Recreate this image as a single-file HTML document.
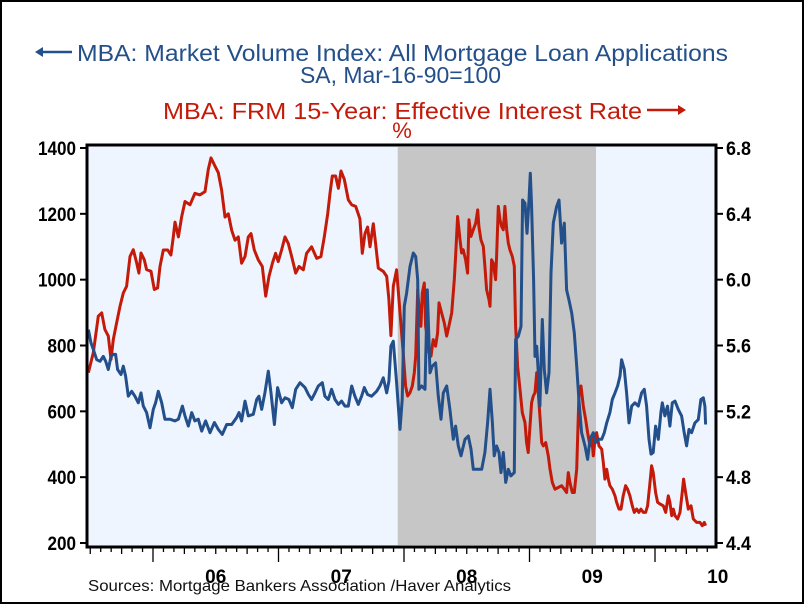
<!DOCTYPE html>
<html><head><meta charset="utf-8"><style>
html,body{margin:0;padding:0;background:#fff;}
svg{display:block;font-family:"Liberation Sans",Arial,sans-serif;}
</style></head><body>
<svg id="chart" width="804" height="604" viewBox="0 0 804 604" xmlns="http://www.w3.org/2000/svg">
<rect x="1" y="1" width="802" height="602" fill="#fff" stroke="#000" stroke-width="2"/>
<g fill="#234f8a">
<line x1="40" y1="52" x2="72" y2="52" stroke="#234f8a" stroke-width="2.5"/>
<polygon points="35,52 43,47 43,57" fill="#234f8a"/>
<text x="77" y="61" font-size="23" textLength="651" lengthAdjust="spacingAndGlyphs">MBA: Market Volume Index: All Mortgage Loan Applications</text>
<text x="300" y="83" font-size="23" textLength="201" lengthAdjust="spacingAndGlyphs">SA, Mar-16-90=100</text>
</g>
<g fill="#c41a0a">
<text x="163" y="119" font-size="23" textLength="479" lengthAdjust="spacingAndGlyphs">MBA: FRM 15-Year: Effective Interest Rate</text>
<line x1="647" y1="110" x2="680" y2="110" stroke="#c41a0a" stroke-width="2.5"/>
<polygon points="686,110 678,105 678,115" fill="#c41a0a"/>
<text x="402" y="138" font-size="22" text-anchor="middle">%</text>
</g>
<rect x="87" y="145" width="629" height="402" fill="#eef5ff"/>
<g id="shade"></g>
<g id="series"></g>
<rect x="87" y="145" width="629" height="402" fill="none" stroke="#000" stroke-width="3"/>
<g id="axes"></g>
<text x="88" y="591" font-size="16" fill="#111" textLength="423" lengthAdjust="spacingAndGlyphs">Sources:  Mortgage Bankers Association /Haver Analytics</text>
</svg>
<script>
const leftTicks=[200,400,600,800,1000,1200,1400];
const rightTicks=["4.4","4.8","5.2","5.6","6.0","6.4","6.8"];
const yearLabels=["06","07","08","09","10"];
const yearValues=[2006,2007,2008,2009,2010];
const recession=[2007.95,2009.53];
const blueDates=[2005.485,2005.506,2005.524,2005.551,2005.578,2005.604,2005.623,2005.644,2005.665,2005.684,2005.702,2005.718,2005.745,2005.763,2005.782,2005.803,2005.830,2005.856,2005.883,2005.904,2005.923,2005.949,2005.976,2006.002,2006.021,2006.042,2006.069,2006.095,2006.135,2006.175,2006.202,2006.234,2006.255,2006.281,2006.308,2006.334,2006.361,2006.388,2006.419,2006.454,2006.489,2006.520,2006.552,2006.587,2006.627,2006.666,2006.685,2006.706,2006.733,2006.759,2006.799,2006.826,2006.844,2006.866,2006.892,2006.919,2006.940,2006.967,2006.993,2007.025,2007.052,2007.083,2007.110,2007.137,2007.171,2007.211,2007.238,2007.264,2007.291,2007.317,2007.349,2007.370,2007.397,2007.423,2007.450,2007.477,2007.503,2007.530,2007.556,2007.583,2007.609,2007.636,2007.662,2007.684,2007.710,2007.742,2007.782,2007.808,2007.835,2007.862,2007.880,2007.896,2007.915,2007.941,2007.968,2007.986,2008.002,2008.021,2008.048,2008.074,2008.093,2008.109,2008.119,2008.140,2008.167,2008.186,2008.207,2008.225,2008.252,2008.273,2008.295,2008.313,2008.340,2008.366,2008.393,2008.411,2008.433,2008.454,2008.486,2008.512,2008.534,2008.552,2008.579,2008.619,2008.645,2008.666,2008.685,2008.704,2008.719,2008.738,2008.757,2008.773,2008.791,2008.810,2008.831,2008.852,2008.879,2008.889,2008.911,2008.932,2008.945,2008.964,2008.980,2008.996,2009.006,2009.017,2009.033,2009.044,2009.057,2009.070,2009.083,2009.102,2009.118,2009.136,2009.155,2009.171,2009.190,2009.216,2009.235,2009.256,2009.277,2009.296,2009.314,2009.336,2009.357,2009.376,2009.394,2009.415,2009.442,2009.463,2009.482,2009.508,2009.527,2009.548,2009.575,2009.596,2009.615,2009.641,2009.660,2009.681,2009.702,2009.721,2009.734,2009.755,2009.774,2009.793,2009.814,2009.840,2009.867,2009.893,2009.915,2009.933,2009.952,2009.968,2009.986,2010.005,2010.026,2010.047,2010.058,2010.079,2010.100,2010.119,2010.138,2010.159,2010.186,2010.212,2010.233,2010.252,2010.271,2010.292,2010.318,2010.345,2010.366,2010.385,2010.398,2010.403];
const blueValues=[848,808,788,757,752,767,752,727,767,773,773,727,712,737,707,646,661,646,626,656,616,596,550,606,626,661,626,576,576,571,576,616,586,555,596,571,576,540,571,535,566,545,530,560,560,581,596,571,631,586,591,636,646,606,656,722,656,560,672,626,641,636,611,667,687,672,651,636,656,677,687,646,636,667,636,621,631,616,616,677,646,621,646,672,651,646,661,677,702,656,692,798,813,687,545,636,919,959,1040,1081,1070,1000,667,677,667,969,717,737,747,646,576,656,677,606,515,555,495,465,515,525,485,424,424,424,475,565,667,565,465,495,475,414,475,384,424,404,414,818,828,858,1242,1232,1141,1242,1323,1222,1000,767,798,717,616,879,727,656,717,1020,1172,1222,1242,1111,1172,969,939,899,838,737,636,535,495,454,515,535,505,515,515,535,565,596,636,656,677,707,757,727,656,565,616,626,616,656,667,616,515,470,475,555,515,596,626,586,616,555,626,631,606,586,535,495,545,535,565,575,636,641,616,560];
const redDates=[2005.485,2005.524,2005.564,2005.591,2005.617,2005.644,2005.665,2005.684,2005.710,2005.737,2005.763,2005.790,2005.817,2005.843,2005.870,2005.888,2005.904,2005.931,2005.949,2005.984,2006.010,2006.037,2006.056,2006.082,2006.117,2006.143,2006.162,2006.175,2006.202,2006.228,2006.255,2006.295,2006.334,2006.374,2006.414,2006.441,2006.462,2006.494,2006.520,2006.547,2006.574,2006.600,2006.627,2006.653,2006.680,2006.706,2006.733,2006.759,2006.781,2006.807,2006.839,2006.871,2006.898,2006.924,2006.951,2006.977,2006.998,2007.025,2007.052,2007.078,2007.105,2007.137,2007.163,2007.198,2007.224,2007.264,2007.304,2007.338,2007.365,2007.392,2007.410,2007.429,2007.455,2007.477,2007.498,2007.524,2007.556,2007.583,2007.615,2007.649,2007.668,2007.689,2007.710,2007.729,2007.755,2007.774,2007.795,2007.835,2007.862,2007.880,2007.896,2007.915,2007.941,2007.968,2007.994,2008.013,2008.029,2008.048,2008.066,2008.082,2008.093,2008.109,2008.119,2008.135,2008.146,2008.162,2008.172,2008.188,2008.199,2008.215,2008.233,2008.252,2008.268,2008.279,2008.300,2008.321,2008.340,2008.358,2008.380,2008.401,2008.411,2008.427,2008.446,2008.459,2008.472,2008.491,2008.507,2008.518,2008.534,2008.552,2008.571,2008.587,2008.597,2008.613,2008.632,2008.645,2008.658,2008.677,2008.685,2008.698,2008.711,2008.730,2008.738,2008.751,2008.765,2008.778,2008.791,2008.804,2008.818,2008.831,2008.844,2008.863,2008.879,2008.889,2008.905,2008.924,2008.943,2008.964,2008.977,2008.990,2009.004,2009.017,2009.030,2009.044,2009.057,2009.070,2009.083,2009.097,2009.110,2009.129,2009.150,2009.163,2009.182,2009.203,2009.229,2009.256,2009.277,2009.296,2009.309,2009.322,2009.341,2009.357,2009.376,2009.383,2009.394,2009.410,2009.429,2009.447,2009.463,2009.482,2009.495,2009.508,2009.522,2009.535,2009.554,2009.575,2009.588,2009.601,2009.615,2009.628,2009.641,2009.660,2009.681,2009.694,2009.713,2009.729,2009.747,2009.766,2009.782,2009.800,2009.819,2009.835,2009.854,2009.872,2009.888,2009.907,2009.925,2009.941,2009.960,2009.973,2009.986,2010.005,2010.021,2010.040,2010.066,2010.085,2010.106,2010.119,2010.133,2010.146,2010.159,2010.180,2010.199,2010.217,2010.228,2010.244,2010.265,2010.287,2010.305,2010.332,2010.358,2010.377,2010.393,2010.403];
const redValues=[5.435,5.556,5.778,5.798,5.697,5.657,5.515,5.636,5.737,5.838,5.919,5.960,6.141,6.182,6.101,6.040,6.162,6.121,6.061,6.051,5.940,5.950,6.080,6.180,6.180,6.150,6.260,6.350,6.260,6.380,6.475,6.455,6.525,6.515,6.535,6.670,6.740,6.690,6.650,6.545,6.380,6.400,6.300,6.240,6.260,6.100,6.140,6.260,6.280,6.180,6.120,6.080,5.900,6.020,6.100,6.160,6.110,6.180,6.260,6.220,6.140,6.040,6.080,6.060,6.160,6.200,6.130,6.140,6.260,6.400,6.525,6.630,6.630,6.555,6.660,6.610,6.485,6.455,6.445,6.370,6.160,6.280,6.320,6.200,6.340,6.220,6.070,6.050,6.020,5.880,5.660,5.960,6.060,5.800,5.556,5.354,5.293,5.313,5.354,5.434,5.536,5.940,5.838,5.717,5.919,5.980,5.717,5.636,5.556,5.535,5.636,5.596,5.677,5.859,5.798,5.737,5.657,5.717,5.798,6.000,6.141,6.384,6.243,6.162,6.182,6.121,6.040,6.364,6.263,6.303,6.344,6.424,6.323,6.243,6.202,6.081,5.939,5.879,5.838,6.121,6.101,6.000,6.141,6.445,6.364,6.323,6.303,6.445,6.303,6.222,6.182,6.141,6.081,5.717,5.475,5.333,5.192,5.131,5.010,4.950,5.111,5.253,5.293,5.313,5.434,5.313,5.172,5.010,4.990,5.010,4.929,4.849,4.768,4.727,4.737,4.748,4.727,4.707,4.828,4.768,4.707,4.707,4.849,5.030,5.293,5.354,5.232,5.152,5.071,4.990,5.051,4.929,5.030,5.071,4.990,4.970,4.889,4.788,4.848,4.788,4.748,4.727,4.687,4.647,4.606,4.606,4.687,4.748,4.727,4.687,4.626,4.586,4.606,4.586,4.606,4.586,4.586,4.626,4.768,4.869,4.828,4.707,4.647,4.637,4.626,4.586,4.687,4.647,4.566,4.606,4.566,4.546,4.586,4.707,4.788,4.707,4.606,4.626,4.546,4.525,4.525,4.505,4.525,4.505];

const NS="http://www.w3.org/2000/svg";
const X0=404, PXY=125.5;
function xScale(t){return X0+(t-2008)*PXY;}
function yLeft(v){return 543-(v-200)*(395/1200);}
function yRight(v){return 543-(v-4.4)*(395/2.4);}
function mk(tag,attrs,parent){const e=document.createElementNS(NS,tag);for(const k in attrs)e.setAttribute(k,attrs[k]);parent.appendChild(e);return e;}

const shadeG=document.getElementById('shade');
const sh=mk('rect',{x:xScale(recession[0]),y:147,width:xScale(recession[1])-xScale(recession[0]),height:398,fill:'#c6c6c6'},shadeG);



const serG=document.getElementById('series');
function path(dates,vals,yf){let d='';for(let i=0;i<dates.length;i++){d+=(i?'L':'M')+xScale(dates[i]).toFixed(1)+','+yf(vals[i]).toFixed(1);}return d;}
const rp=mk('path',{d:path(redDates,redValues,yRight),fill:'none',stroke:'#c41a0a','stroke-width':3,'stroke-linejoin':'round'},serG);


const bp=mk('path',{d:path(blueDates,blueValues,yLeft),fill:'none',stroke:'#234f8a','stroke-width':3,'stroke-linejoin':'round'},serG);



const ax=document.getElementById('axes');
leftTicks.forEach(v=>{const y=yLeft(v);
 const l=mk('line',{x1:80,x2:87,y1:y,y2:y,stroke:'#000','stroke-width':2},ax);
 
 
 const t=mk('text',{x:76,y:y+7,'text-anchor':'end','font-size':19,'font-weight':'bold',textLength:String(v).length*9.5,lengthAdjust:'spacingAndGlyphs'},ax);
 
 
 t.textContent=v;});
rightTicks.forEach(s=>{const y=yRight(parseFloat(s));
 const l=mk('line',{x1:716,x2:723,y1:y,y2:y,stroke:'#000','stroke-width':2},ax);
 
 
 const t=mk('text',{x:726,y:y+7,'font-size':19,'font-weight':'bold',textLength:25,lengthAdjust:'spacingAndGlyphs'},ax);
 
 
 t.textContent=s;});
for(let m=0;m<=60;m++){const t=2005.5+m/12;const x=xScale(t);if(x<88||x>715)continue;
 const long=(m%12===6);
 const l=mk('line',{x1:x,x2:x,y1:548,y2:long?562:(m%3===0?554:552),stroke:'#000','stroke-width':1.3},ax);
 
 }
yearLabels.forEach((s,i)=>{const t=mk('text',{x:xScale(yearValues[i]+0.5),y:583,'text-anchor':'middle','font-size':19,'font-weight':'bold'},ax);
 
 
 t.textContent=s;});
</script>
</body></html>
